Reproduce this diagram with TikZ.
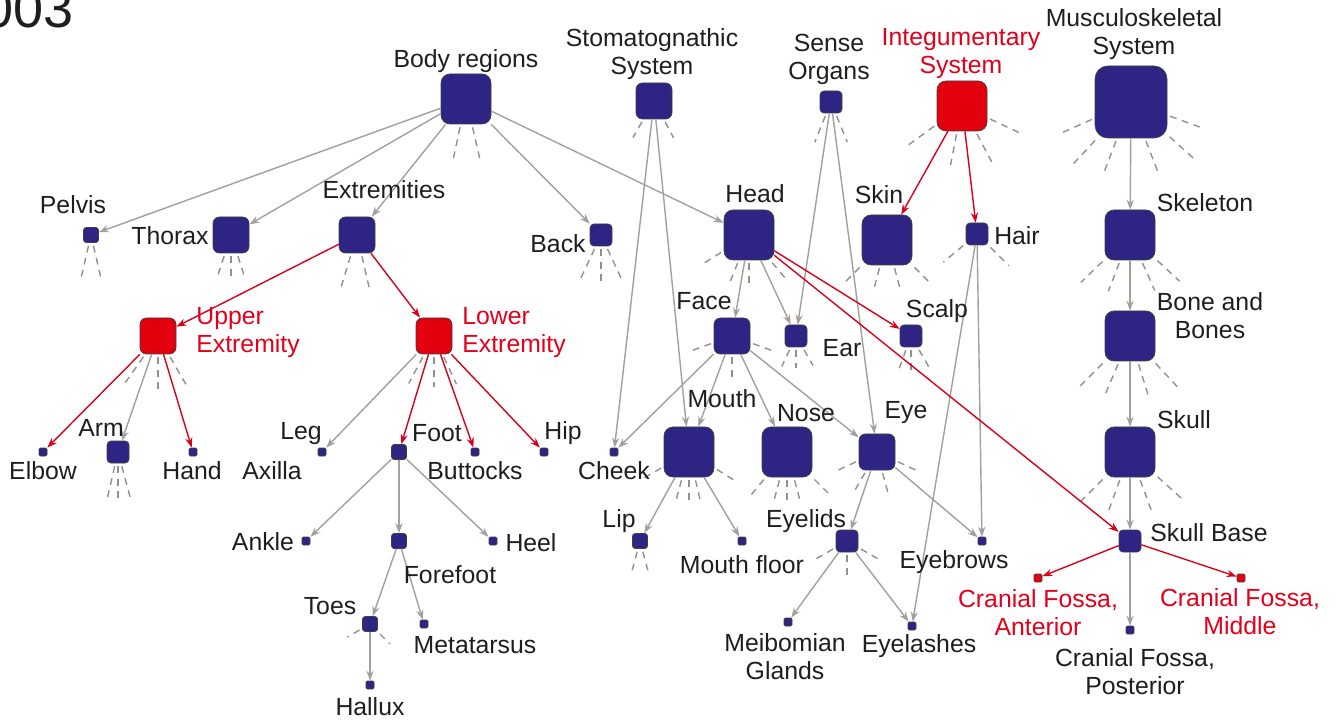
\documentclass[tikz,border=0pt]{standalone}
\usepackage{fontspec}
\setmainfont{Liberation Sans}
\usepackage{xcolor}
\usepackage{tikz}
\usetikzlibrary{arrows.meta}
\definecolor{MeshNavy}{HTML}{2E2483}
\definecolor{MeshRed}{HTML}{E2000F}
\definecolor{LinkGray}{HTML}{A39F9A}
\definecolor{LinkRed}{HTML}{D8001A}
\definecolor{LabelInk}{HTML}{1E1E1E}
\definecolor{LabelRed}{HTML}{E2001A}
\tikzset{
  sq/.style={draw=black!75,line width=0.35pt,fill=MeshNavy,inner sep=0pt,minimum size=#1,rounded corners=0.18*#1},
  hot/.style={fill=MeshRed},
  lbl/.style={font=\fontsize{12.4}{14}\selectfont,text=LabelInk,align=center,inner sep=0pt},
  lblred/.style={lbl,text=LabelRed},
  link/.style={draw=LinkGray,line width=0.7pt,-{Stealth[length=5pt,width=3.6pt]}},
  rlink/.style={link,draw=LinkRed},
  stub/.style={draw=LinkGray!90!black,line width=0.7pt,dash pattern=on 3.4pt off 2.8pt},
}
\newcommand{\stubs}[3]{\foreach \a in {#3}{\draw[stub] (#1.\a) ++(\a:1.5pt) -- ++(\a:#2);}}

\begin{document}
\begin{tikzpicture}[x=0.5pt,y=-0.5pt]
\useasboundingbox (0,0) rectangle (1338,721);
\node[font=\fontsize{27}{30}\selectfont,text=LabelInk,inner sep=0pt,anchor=base east] (year) at (74,28) {003};

% top level
\node[sq=25pt] (br) at (466,99) {};
\node[sq=18pt] (stom) at (654,101) {};
\node[sq=11pt] (sens) at (831,102) {};
\node[sq=25pt,hot] (integ) at (962,106) {};
\node[sq=36pt] (musc) at (1131,102) {};

% second level
\node[sq=7.5pt] (pelv) at (91,235) {};
\node[sq=18pt] (thor) at (231,235) {};
\node[sq=18pt] (extr) at (357,235) {};
\node[sq=11pt] (back) at (601,235) {};
\node[sq=25pt] (head) at (749,235) {};
\node[sq=25pt] (skin) at (887,240) {};
\node[sq=11pt] (hair) at (977,234) {};
\node[sq=25pt] (skel) at (1130,235) {};

% third level
\node[sq=18pt,hot] (upper) at (158,336) {};
\node[sq=18pt,hot] (lower) at (434,336) {};
\node[sq=18pt] (face) at (732,336) {};
\node[sq=11pt] (ear) at (796,336) {};
\node[sq=11pt] (scalp) at (911,336) {};
\node[sq=25pt] (bone) at (1130,336) {};

% fourth level
\node[sq=4pt] (elbow) at (43,452) {};
\node[sq=11pt] (arm) at (118,452) {};
\node[sq=4pt] (hand) at (193,452) {};
\node[sq=4pt] (leg) at (322,452) {};
\node[sq=7.5pt] (foot) at (399,452) {};
\node[sq=4pt] (butt) at (475,452) {};
\node[sq=4pt] (hip) at (544,452) {};
\node[sq=4pt] (cheek) at (614,452) {};
\node[sq=25pt] (mouth) at (689,452) {};
\node[sq=25pt] (nose) at (787,452) {};
\node[sq=18pt] (eye) at (877,452) {};
\node[sq=25pt] (skull) at (1130,452) {};

% fifth level
\node[sq=4pt] (ankle) at (306,541) {};
\node[sq=7.5pt] (fore) at (399,541) {};
\node[sq=4pt] (heel) at (493,541) {};
\node[sq=7.5pt] (lip) at (640,541) {};
\node[sq=4pt] (mfloor) at (742,541) {};
\node[sq=11pt] (lids) at (847,541) {};
\node[sq=4pt] (brows) at (982,541) {};
\node[sq=11pt] (sbase) at (1130,541) {};

% leaves
\node[sq=7.5pt] (toes) at (370,624) {};
\node[sq=4pt] (meta) at (424,624) {};
\node[sq=4pt] (hallux) at (370,685) {};
\node[sq=4pt] (meib) at (788,622) {};
\node[sq=4pt] (lash) at (912,626) {};
\node[sq=4pt,hot] (cfa) at (1038,578) {};
\node[sq=4pt,hot] (cfm) at (1241,578) {};
\node[sq=4pt] (cfp) at (1130,630) {};

% collapsed children
\stubs{br}{17pt}{-102,-77}
\stubs{stom}{9pt}{-120,-62}
\stubs{sens}{14pt}{-112,-68}
\stubs{integ}{16pt}{-144,-101,-62,-25}
\stubs{musc}{17pt}{-156,-133,-111,-69,-42,-20}
\stubs{pelv}{17pt}{-103,-77}
\stubs{thor}{10pt}{-108,-90,-72}
\stubs{extr}{17pt}{-107,-77}
\stubs{back}{16pt}{-115,-90,-65}
\stubs{head}{11pt}{-148,-112,-90,-50}
\stubs{skin}{12pt}{-135,-105,-75,-45}
\stubs{hair}{13pt}{-140,-45}
\stubs{skel}{15pt}{-136,-111,-66,-43}
\stubs{upper}{16pt}{-125,-90,-60}
\stubs{lower}{15pt}{-118,-90,-65}
\stubs{face}{10pt}{-160,-90,-20}
\stubs{ear}{9pt}{-115,-90,-60}
\stubs{scalp}{12pt}{-110,-90,-60}
\stubs{bone}{16pt}{-135,-113,-73,-47}
\stubs{skull}{17pt}{-135,-110,-70,-42}
\stubs{arm}{16pt}{-103,-90,-75}
\stubs{mouth}{12pt}{-150,-105,-90,-77,-32}
\stubs{nose}{11pt}{-130,-105,-90,-75,-45}
\stubs{eye}{10pt}{-155,-120,-75,-25}
\stubs{lip}{10pt}{-105,-75}
\stubs{lids}{10pt}{-150,-90,-30}
\stubs{toes}{7pt}{-150,-45}

% gray links
\foreach \s/\t in {br/pelv,br/thor,br/extr,br/back,br/head,
  stom/cheek,stom/mouth,sens/ear,sens/eye,
  musc/skel,skel/bone,bone/skull,skull/sbase,
  head/face,head/ear,upper/arm,lower/leg,
  foot/ankle,foot/fore,foot/heel,fore/toes,fore/meta,toes/hallux,
  face/cheek,face/mouth,face/nose,face/eye,mouth/lip,mouth/mfloor,
  eye/lids,eye/brows,lids/meib,lids/lash,hair/brows,hair/lash,sbase/cfp}
  \draw[link] (\s) -- (\t);

% red links
\foreach \s/\t in {integ/skin,integ/hair,extr/upper,extr/lower,
  head/scalp,head/sbase,upper/elbow,upper/hand,
  lower/foot,lower/butt,lower/hip,sbase/cfa,sbase/cfm}
  \draw[rlink] (\s) -- (\t);

% labels
\node[lbl] (brl) at (466,61) {Body regions};
\node[lbl] (steml) at (652,54) {Stomatognathic\\System};
\node[lbl] (sensl) at (829,59) {Sense\\Organs};
\node[lblred] (integl) at (961,54) {Integumentary\\System};
\node[lbl] (muscl) at (1134,34) {Musculoskeletal\\System};
\node[lbl] (pelvl) at (73,205) {Pelvis};
\node[lbl] (thorl) at (170,236) {Thorax};
\node[lbl] (extrl) at (384,190) {Extremities};
\node[lbl] (backl) at (558,244) {Back};
\node[lbl] (headl) at (755,194) {Head};
\node[lbl] (skinl) at (879,195) {Skin};
\node[lbl] (hairl) at (1017,236) {Hair};
\node[lbl] (skell) at (1205,203) {Skeleton};
\node[lblred,anchor=west,align=left] (upperl) at (196,333) {Upper\\Extremity};
\node[lblred,anchor=west,align=left] (lowerl) at (462,333) {Lower\\Extremity};
\node[lbl] (facel) at (704,301) {Face};
\node[lbl] (earl) at (842,348) {Ear};
\node[lbl] (scalpl) at (937,311) {Scalp};
\node[lbl] (bonel) at (1210,316) {Bone and\\Bones};
\node[lbl] (elbowl) at (43,471) {Elbow};
\node[lbl] (arml) at (101,428) {Arm};
\node[lbl] (handl) at (192,471) {Hand};
\node[lbl] (legl) at (301,434) {Leg};
\node[lbl] (axil) at (272,471) {Axilla};
\node[lbl] (footl) at (437,433) {Foot};
\node[lbl] (buttl) at (475,471) {Buttocks};
\node[lbl] (hipl) at (563,433) {Hip};
\node[lbl] (cheekl) at (614,471) {Cheek};
\node[lbl] (mouthl) at (722,399) {Mouth};
\node[lbl] (nosel) at (806,413) {Nose};
\node[lbl] (eyel) at (906,413) {Eye};
\node[lbl] (skulll) at (1184,420) {Skull};
\node[lbl] (anklel) at (263,542) {Ankle};
\node[lbl] (forel) at (450,575) {Forefoot};
\node[lbl] (heell) at (531,543) {Heel};
\node[lbl] (lipl) at (619,521) {Lip};
\node[lbl] (mfloorl) at (742,565) {Mouth floor};
\node[lbl] (lidsl) at (806,521) {Eyelids};
\node[lbl] (browsl) at (954,562) {Eyebrows};
\node[lbl] (sbasel) at (1209,533) {Skull Base};
\node[lbl] (toesl) at (330,606) {Toes};
\node[lbl] (metal) at (475,645) {Metatarsus};
\node[lbl] (meibl) at (785,657) {Meibomian\\Glands};
\node[lbl] (lashl) at (919,646) {Eyelashes};
\node[lblred] (cfal) at (1038,613) {Cranial Fossa,\\Anterior};
\node[lblred] (cfml) at (1240,612) {Cranial Fossa,\\Middle};
\node[lbl] (cfpl) at (1135,672) {Cranial Fossa,\\Posterior};
\node[lbl] (halluxl) at (370,707) {Hallux};

\end{tikzpicture}
\end{document}
